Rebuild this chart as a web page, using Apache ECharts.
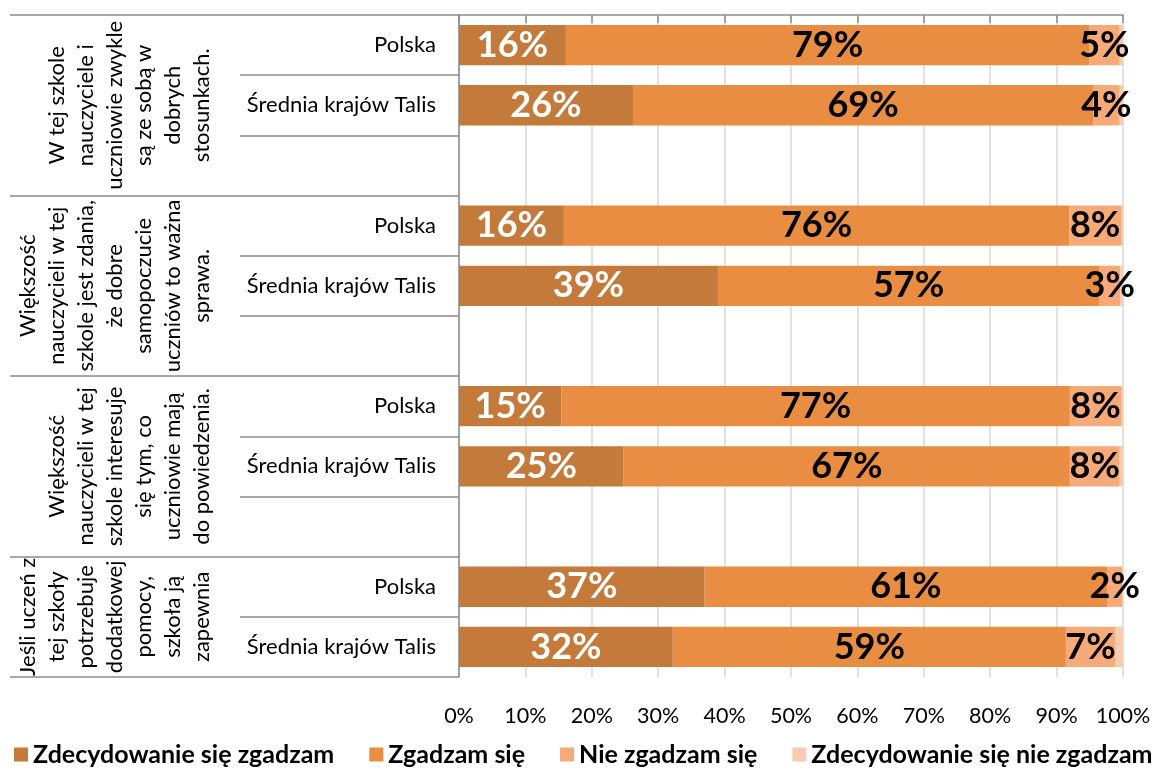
<!DOCTYPE html>
<html><head><meta charset="utf-8">
<script src="https://cdn.jsdelivr.net/npm/echarts@6/dist/echarts.min.js"></script>
<style>html,body{margin:0;padding:0;background:#fff}#c{width:1156px;height:769px}</style>
</head><body><div id="c"></div>
<script>
// Sub-category slots (blank slots are spacer rows inside each group)
var subLabels = ['Polska','Średnia krajów Talis','','Polska','Średnia krajów Talis','','Polska','Średnia krajów Talis','','Polska','Średnia krajów Talis'];
// Group labels, and where each group's label sits / where boundaries lie (in slot units)
var groupLabels = [
  'W tej szkole\nnauczyciele i\nuczniowie zwykle\nsą ze sobą w\ndobrych\nstosunkach.',
  'Większość\nnauczycieli w tej\nszkole jest zdania,\nże dobre\nsamopoczucie\nuczniów to ważna\nsprawa.',
  'Większość\nnauczycieli w tej\nszkole interesuje\nsię tym, co\nuczniowie mają\ndo powiedzenia.',
  'Jeśli uczeń z\ntej szkoły\npotrzebuje\ndodatkowej\npomocy,\nszkoła ją\nzapewnia'
];
var groupCenters = [1.5, 4.5, 7.5, 10];
var groupBounds = [0, 3, 6, 9, 11];
var seriesNames = ['Zdecydowanie się zgadzam','Zgadzam się','Nie zgadzam się','Zdecydowanie się nie zgadzam'];
var strongAgree    = [16.1, 26.2, null, 15.8, 39.0, null, 15.4, 24.8, null, 37.0, 32.2];
var agree          = [78.8, 69.3, null, 76.1, 57.4, null, 76.6, 67.2, null, 60.6, 59.2];
var disagree       = [4.6, 4.0, null, 7.8, 3.2, null, 7.7, 7.5, null, 2.3, 7.4];
var strongDisagree = [0.5, 0.5, null, 0.3, 0.4, null, 0.3, 0.5, null, 0.1, 1.2];

var colors = ['#C47A3A','#E98D43','#F5AA78','#F9CCB2'];
var FONT = 'Lato';
var chart = echarts.init(document.getElementById('c'), null, {renderer:'canvas'});

function fmt(p){ return (p.value == null) ? '' : Math.round(p.value) + '%'; }
function mkSeries(i, data, labelColor, showLabel){
  return {
    name: seriesNames[i], type: 'bar', stack: 'all', data: data,
    barCategoryGap: '33%',
    itemStyle: {color: colors[i]},
    label: {show: showLabel, position: 'inside', formatter: fmt, color: labelColor,
            fontFamily: FONT, fontWeight: 'bold', fontSize: 36},
    emphasis: {disabled: true}
  };
}

chart.setOption({
  animation: false,
  textStyle: {fontFamily: FONT},
  grid: {left: 459, right: 33, top: 15, bottom: 92, containLabel: false, outerBoundsMode: 'none'},
  legend: {
    data: seriesNames, left: 14, top: 742, icon: 'rect', itemWidth: 14, itemHeight: 14, itemGap: 35,
    padding: 0,
    textStyle: {fontFamily: FONT, fontWeight: 'bold', fontSize: 25, color: '#000'}
  },
  xAxis: {
    type: 'value', min: 0, max: 100, interval: 10,
    axisLine: {show: true, lineStyle: {color: '#8c8c8c', width: 1.5}},
    axisTick: {show: true, length: 8, lineStyle: {color: '#8c8c8c', width: 1.5}},
    splitLine: {show: true, lineStyle: {color: '#d9d9d9', width: 1.5}},
    axisLabel: {formatter: '{value}%', color: '#000', fontSize: 21.5, margin: 28, fontFamily: FONT}
  },
  yAxis: [{
    type: 'category', inverse: true, data: subLabels, position: 'left',
    axisLine: {show: true, lineStyle: {color: '#8c8c8c', width: 1.5}},
    axisTick: {show: true, interval: 0, length: 219, lineStyle: {color: '#8c8c8c', width: 1.5}},
    axisLabel: {interval: 0, color: '#000', fontSize: 22, margin: 23, fontFamily: FONT}
  }, {
    type: 'value', inverse: true, min: 0, max: 11, position: 'left', offset: 219,
    axisLine: {show: false}, splitLine: {show: false},
    axisTick: {show: true, customValues: groupBounds, length: 230, lineStyle: {color: '#8c8c8c', width: 1.5}},
    axisLabel: {
      customValues: groupCenters, rotate: 90, margin: 24, color: '#000', fontSize: 22, lineHeight: 29,
      fontFamily: FONT,
      formatter: function(v){ var k = groupCenters.indexOf(v); return k >= 0 ? groupLabels[k] : ''; }
    }
  }],
  series: [
    mkSeries(0, strongAgree, '#fff', true),
    mkSeries(1, agree, '#000', true),
    mkSeries(2, disagree, '#000', true),
    mkSeries(3, strongDisagree, '#000', false)
  ]
});
</script></body></html>
